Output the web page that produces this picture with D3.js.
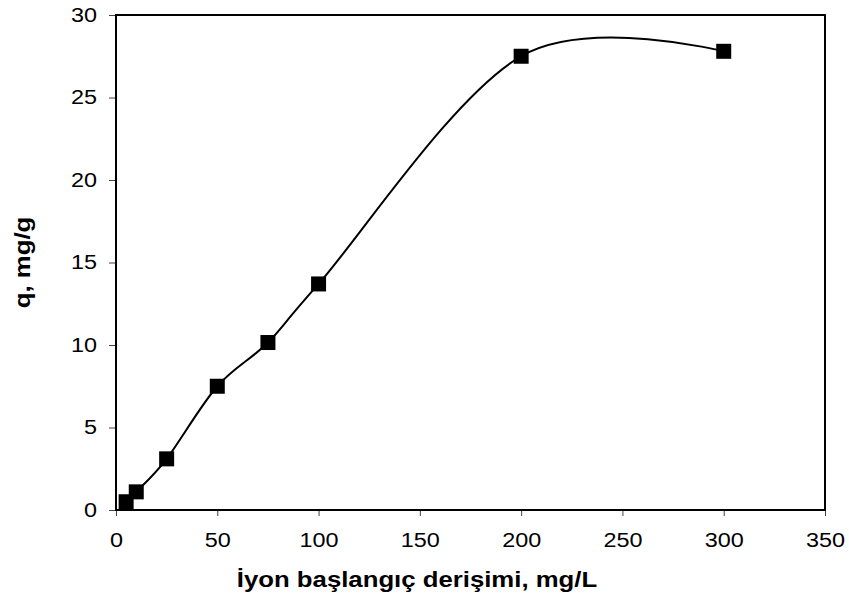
<!DOCTYPE html>
<html>
<head>
<meta charset="utf-8">
<script src="https://cdn.jsdelivr.net/npm/d3@7"></script>
<style>
  body { margin: 0; background: #fff; }
  svg { display: block; font-family: "Liberation Sans", Arial, sans-serif; }
</style>
</head>
<body>
<svg id="chart" width="849" height="600"></svg>
<script>
// data
var concentration = [5, 10, 25, 50, 75, 100, 200, 300];
var uptake = [0.5, 1.1, 3.1, 7.5, 10.15, 13.7, 27.5, 27.8];
var xTicks = [0, 50, 100, 150, 200, 250, 300, 350];
var yTicks = [0, 5, 10, 15, 20, 25, 30];
var xLabel = "İyon başlangıç derişimi, mg/L";
var yLabel = "q, mg/g";

var svg = d3.select("#chart");
var margin = {left: 116, top: 15, right: 24, bottom: 90};
var width = 849 - margin.left - margin.right;
var height = 600 - margin.top - margin.bottom;
var stretch = 1.2; // the reference text is a bit wide

var x = d3.scaleLinear().domain([0, 350]).range([0, width]);
var y = d3.scaleLinear().domain([0, 30]).range([height, 0]);

var g = svg.append("g").attr("transform", "translate(" + margin.left + "," + margin.top + ")");

// x axis
var xAxis = g.append("g").attr("transform", "translate(0," + height + ")")
  .call(d3.axisBottom(x).tickValues(xTicks).tickSize(6).tickPadding(17));
xAxis.selectAll("text").attr("font-size", 19.5).attr("fill", "#000")
  .attr("transform", "scale(" + stretch + ",1)");
xAxis.selectAll("line").attr("stroke", "#444");
xAxis.select(".domain").remove();

// y axis
var yAxis = g.append("g")
  .call(d3.axisLeft(y).tickValues(yTicks).tickSize(7));
yAxis.selectAll("text").attr("font-size", 19.5).attr("fill", "#000")
  .attr("x", 0)
  .attr("transform", "translate(-19,0) scale(" + stretch + ",1)");
yAxis.selectAll("line").attr("stroke", "#444");
yAxis.select(".domain").remove();

// frame
g.append("rect").attr("x", 0).attr("y", 0).attr("width", width).attr("height", height)
  .attr("fill", "none").attr("stroke", "#000").attr("stroke-width", 2);

var pts = concentration.map(function(c, i) { return [c, uptake[i]]; });

var line = d3.line()
  .x(function(d) { return x(d[0]); })
  .y(function(d) { return y(d[1]); })
  .curve(d3.curveCardinal.tension(0));

g.append("path").datum(pts).attr("d", line)
  .attr("fill", "none").attr("stroke", "#000").attr("stroke-width", 2);

var s = 15;
g.selectAll("rect.pt").data(pts).enter().append("rect").attr("class", "pt")
  .attr("x", function(d) { return x(d[0]) - s / 2; })
  .attr("y", function(d) { return y(d[1]) - s / 2; })
  .attr("width", s).attr("height", s)
  .attr("fill", "#000");

// axis titles
svg.append("text").attr("transform", "translate(417,587) scale(1.17,1)")
  .attr("text-anchor", "middle").attr("font-size", 22).attr("font-weight", "bold")
  .text(xLabel);

svg.append("text").attr("transform", "translate(30,262.5) rotate(-90) scale(1.17,1)")
  .attr("text-anchor", "middle").attr("font-size", 22).attr("font-weight", "bold")
  .text(yLabel);
</script>
</body>
</html>
